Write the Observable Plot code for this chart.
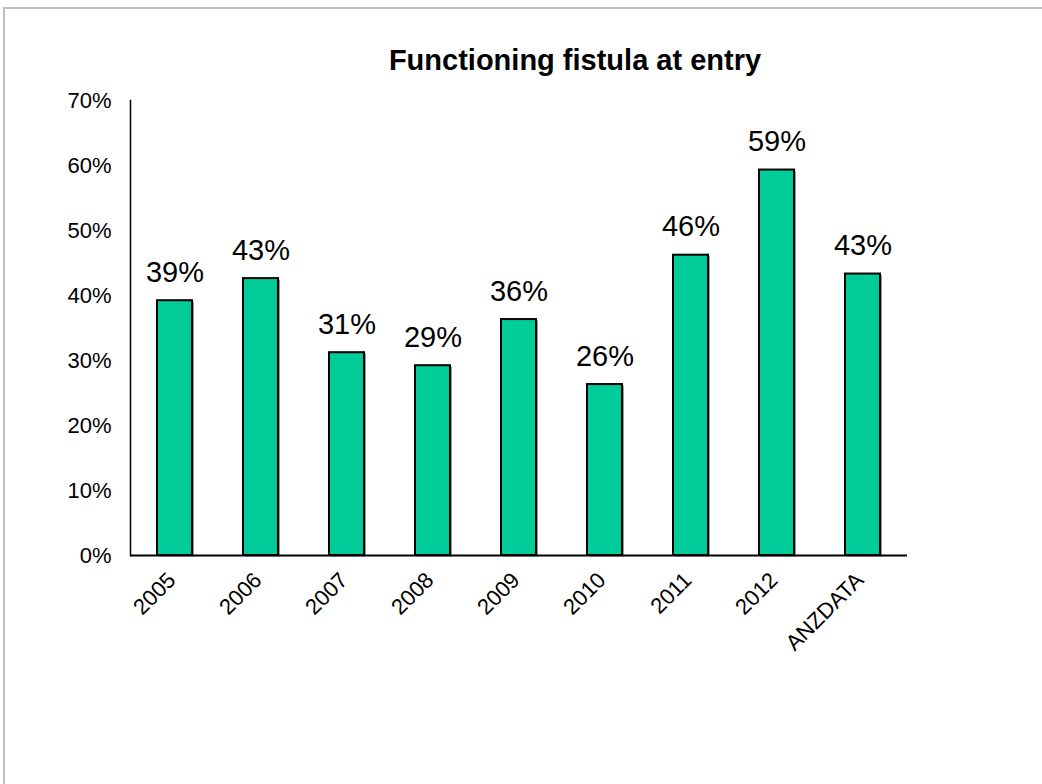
<!DOCTYPE html>
<html>
<head>
<meta charset="utf-8">
<script src="https://cdn.jsdelivr.net/npm/d3@7"></script>
<script src="https://cdn.jsdelivr.net/npm/@observablehq/plot@0.6"></script>
<style>
  html, body { margin: 0; padding: 0; background: #fff; }
  #wrap { position: relative; width: 1042px; height: 784px; overflow: hidden; font-family: "Liberation Sans", Arial, sans-serif; }
  #border { position: absolute; left: 3px; top: 7px; width: 1100px; height: 900px; border-left: 2px solid #bfbfbf; border-top: 2px solid #bfbfbf; box-sizing: border-box; }
  #title { position: absolute; left: 0; top: 43px; width: 1150px; text-align: center; font-weight: bold; font-size: 29px; line-height: 34px; color: #000; }
  #chart { position: absolute; left: 0; top: 0; }
</style>
</head>
<body>
<div id="wrap">
  <div id="border"></div>
  <div id="title">Functioning fistula at entry</div>
  <div id="chart"></div>
</div>
<script>
const categories = ["2005", "2006", "2007", "2008", "2009", "2010", "2011", "2012", "ANZDATA"];
const values = [0.392, 0.426, 0.312, 0.292, 0.363, 0.263, 0.462, 0.593, 0.433];
const yTicks = [0, 0.1, 0.2, 0.3, 0.4, 0.5, 0.6, 0.7];

const data = categories.map((c, i) => ({ cat: c, v: values[i] }));
const pct = d3.format(".0%");

const plot = Plot.plot({
  width: 1042,
  height: 784,
  marginLeft: 130,
  marginRight: 135,
  marginTop: 100,
  marginBottom: 229,
  style: { fontFamily: "'Liberation Sans', Arial, sans-serif", background: "transparent", color: "#000" },
  x: { domain: categories, paddingInner: 0.595, paddingOuter: 0.2975, label: null },
  y: { domain: [0, 0.7], label: null },
  marks: [
    Plot.axisY({ ticks: yTicks, tickFormat: pct, tickSize: 0, tickPadding: 19, fontSize: 22, label: null }),
    Plot.axisX({ tickSize: 0, tickPadding: 21, tickRotate: -45, fontSize: 22, dx: -3, label: null }),
    Plot.barY(data, { x: "cat", y: "v", fill: "#9a9a9a", dx: 2, dy: 1.5 }),
    Plot.barY(data, { x: "cat", y: "v", fill: "#00cc99", stroke: "#000", strokeWidth: 2 }),
    Plot.text(data, { x: "cat", y: "v", text: d => pct(d.v), fontSize: 29, lineAnchor: "bottom", dy: -19, fill: "#000" }),
    Plot.ruleY([0], { stroke: "#000", strokeWidth: 2 }),
    Plot.frame({ anchor: "left", stroke: "#000", strokeWidth: 1.5 })
  ]
});
document.getElementById("chart").appendChild(plot);
</script>
</body>
</html>
